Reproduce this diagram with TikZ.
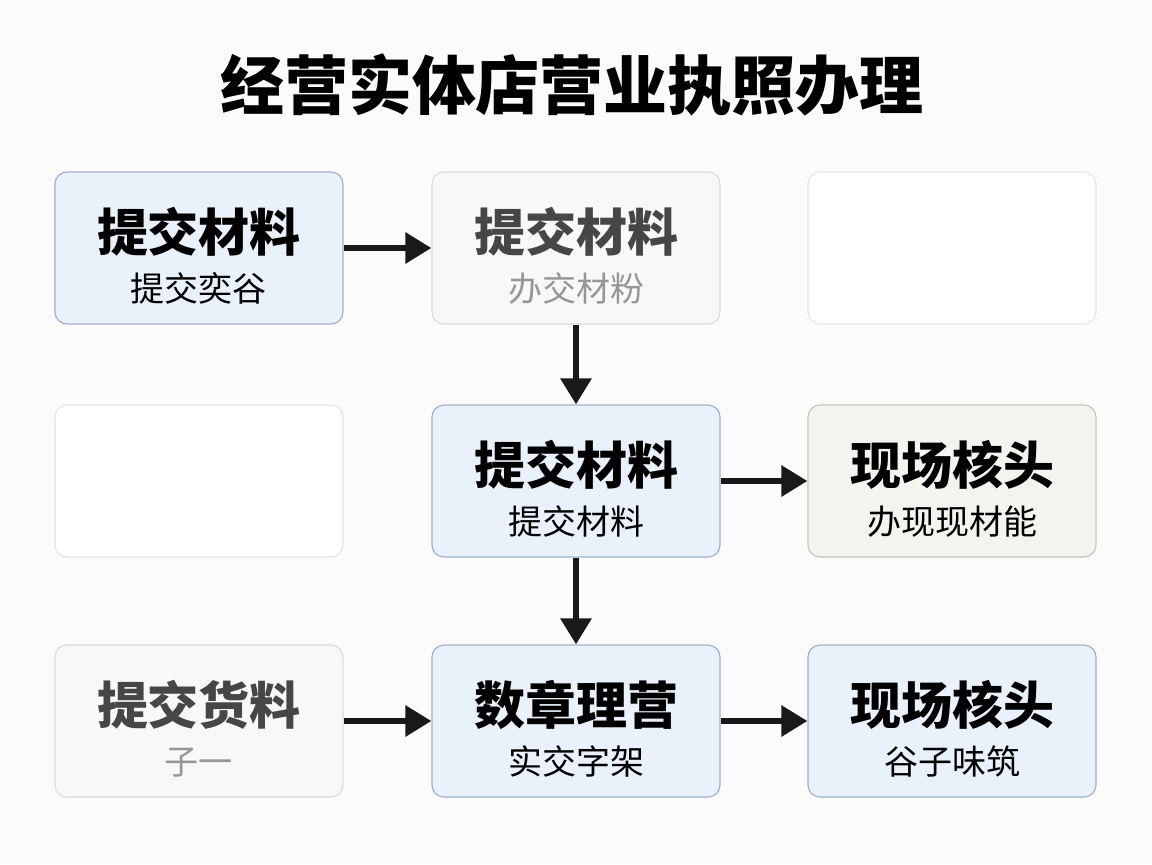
\documentclass[tikz,border=0pt]{standalone}
\usepackage{fontspec}
\setmainfont{Noto Sans CJK SC}
\usetikzlibrary{arrows.meta,positioning}
\definecolor{pageBg}{RGB}{251,251,251}
\definecolor{cardBlue}{RGB}{233,241,251}
\definecolor{cardBlueLine}{RGB}{160,178,204}
\definecolor{paleFill}{RGB}{248,248,248}
\definecolor{paleLine}{RGB}{220,220,220}
\definecolor{paleHead}{RGB}{70,70,70}
\definecolor{paleSub}{RGB}{150,150,150}
\definecolor{blankLine}{RGB}{228,228,228}
\definecolor{sandFill}{RGB}{245,243,237}
\definecolor{sandLine}{RGB}{200,197,190}
\newcommand{\cardtext}[2]{\rule{0pt}{30pt}{\fontsize{25.5}{30}\selectfont\bfseries #1}\\[3pt]{#2}}

\begin{document}
\begin{tikzpicture}[
  x=0.5pt,y=-0.5pt,
  card/.style={rounded corners=6pt,minimum width=144pt,minimum height=76pt,
    line width=0.6pt,align=center,inner sep=0pt,
    font=\fontsize{17}{22}\selectfont},
  blue/.style={card,draw=cardBlueLine,fill=cardBlue},
  pale/.style={card,draw=paleLine,fill=paleFill},
  blank/.style={card,draw=blankLine,fill=white},
  sand/.style={card,draw=sandLine,fill=sandFill},
  flow/.style={-{Triangle[length=13pt,width=15pt]},line width=3pt,black!90},
]
\fill[pageBg] (0,0) rectangle (1152,864);
\useasboundingbox (0,0) rectangle (1152,864);

% title
\node[font=\fontsize{32}{38}\selectfont\bfseries] (title) at (572,85) {经营实体店营业执照办理};

% row 1
\node[blue] (submit) at (199,248) {\cardtext{提交材料}{提交奕谷}};
\node[pale] (handle) at (576,248)
  {\cardtext{\color{paleHead}提交材料}{\color{paleSub}办交材粉}};
\node[blank] (blankA) at (952,248) {};

% row 2
\node[blank] (blankB) at (199,481) {};
\node[blue] (review) at (576,481) {\cardtext{提交材料}{提交材料}};
\node[sand] (visit) at (952,481) {\cardtext{现场核头}{办现现材能}};

% row 3
\node[pale] (goods) at (199,721)
  {\cardtext{\color{paleHead}提交货料}{\color{paleSub}子一}};
\node[blue] (seal) at (576,721) {\cardtext{数章理营}{实交字架}};
\node[blue] (issue) at (952,721) {\cardtext{现场核头}{谷子味筑}};

% arrows
\draw[flow] (submit) -- (handle);
\draw[flow] (handle) -- (review);
\draw[flow] (review) -- (visit);
\draw[flow] (review) -- (seal);
\draw[flow] (goods) -- (seal);
\draw[flow] (seal) -- (issue);
\end{tikzpicture}
\end{document}
